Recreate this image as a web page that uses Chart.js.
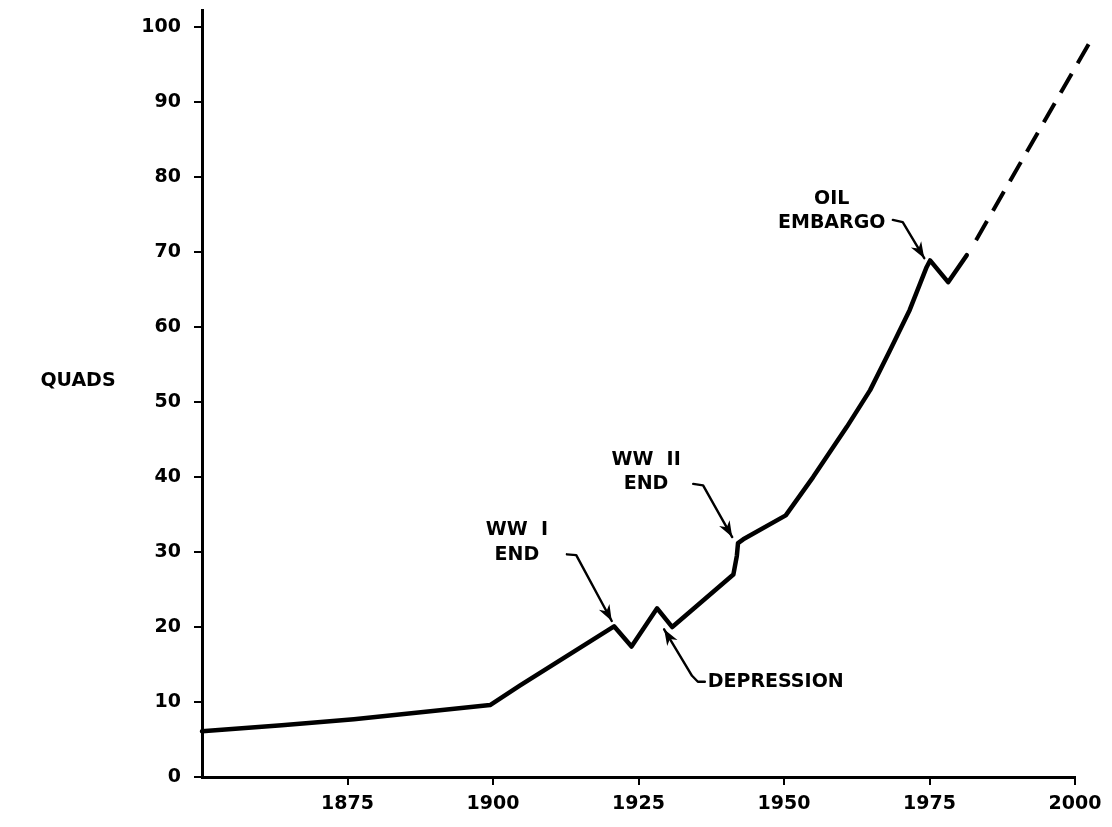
<!DOCTYPE html>
<html>
<head>
<meta charset="utf-8">
<script src="https://cdn.jsdelivr.net/npm/chart.js@4.4.1/dist/chart.umd.min.js"></script>
<style>
  html, body { margin: 0; padding: 0; background: #fff; }
  canvas { display: block; }
</style>
</head>
<body>
<canvas id="c" width="1112" height="827"></canvas>
<script>
// ---- data ----
const years  = [1850, 1863.7, 1876.1, 1899.5, 1904.6, 1920.8, 1923.8, 1928.2, 1930.8, 1941.3, 1941.9, 1942.1, 1943.0, 1950.3, 1955.0, 1960.8, 1964.8, 1968.2, 1971.6, 1974.5, 1975.1, 1978.2, 1981.4];
const quads  = [6.1, 6.9, 7.7, 9.6, 12.2, 20.1, 17.4, 22.5, 20.0, 27.0, 29.5, 31.2, 31.7, 34.9, 40.0, 46.7, 51.6, 56.9, 62.3, 68.0, 68.9, 66.0, 69.6];
const projYears = [1983.0, 2002.9];
const projQuads = [71.6, 98.5];
const xTickValues = [1875, 1900, 1925, 1950, 1975, 2000];
const yTickValues = [0, 10, 20, 30, 40, 50, 60, 70, 80, 90, 100];
const yAxisTitle = 'QUADS';

const FONT = 'DejaVu Sans';
const tickFont = { family: FONT, size: 19, weight: 'bold' };

const toXY = (xs, ys) => xs.map((x, i) => ({ x: x, y: ys[i] }));

// annotations (text + leader arrows) positioned in data coordinates
const notes = [
  { lines: ['WW  I', 'END'], at: [1904.1, 32.9], gap: 3.3,
    arrow: [[1912.7, 29.7], [1914.3, 29.6], [1920.4, 20.8]] },
  { lines: ['WW  II', 'END'], at: [1926.3, 42.3], gap: 3.2,
    arrow: [[1934.4, 39.1], [1936.1, 38.9], [1941.1, 32.0]] },
  { lines: ['OIL', 'EMBARGO'], at: [1958.2, 77.1], gap: 3.2,
    arrow: [[1968.7, 74.3], [1970.4, 74.0], [1974.1, 69.2]] },
  { lines: ['DEPRESSION'], at: [1936.9, 12.7], align: 'left',
    arrow: [[1936.4, 12.7], [1935.2, 12.7], [1934.2, 13.5], [1929.4, 19.7]] }
];

const annotationPlugin = {
  id: 'notes',
  afterDatasetsDraw(chart) {
    const { ctx, scales: { x, y }, chartArea } = chart;
    ctx.save();
    ctx.fillStyle = '#000';
    ctx.strokeStyle = '#000';
    ctx.font = 'bold 19px "' + FONT + '"';
    ctx.textBaseline = 'middle';

    // y axis title
    ctx.textAlign = 'center';
    ctx.fillText(yAxisTitle, chartArea.left - 124, y.getPixelForValue(52.8));

    notes.forEach(n => {
      ctx.textAlign = n.align || 'center';
      n.lines.forEach((t, i) => {
        ctx.fillText(t, x.getPixelForValue(n.at[0]), y.getPixelForValue(n.at[1] - i * (n.gap || 0)));
      });
      const pts = n.arrow.map(p => [x.getPixelForValue(p[0]), y.getPixelForValue(p[1])]);
      ctx.lineWidth = 2.4;
      ctx.lineJoin = 'round';
      ctx.lineCap = 'round';
      ctx.beginPath();
      pts.forEach((p, i) => i ? ctx.lineTo(p[0], p[1]) : ctx.moveTo(p[0], p[1]));
      ctx.stroke();
      // arrow head
      const a = pts[pts.length - 2], b = pts[pts.length - 1];
      const ang = Math.atan2(b[1] - a[1], b[0] - a[0]);
      const L = 16, W = 6;
      ctx.beginPath();
      ctx.moveTo(b[0], b[1]);
      ctx.lineTo(b[0] - L * Math.cos(ang) + W * Math.sin(ang), b[1] - L * Math.sin(ang) - W * Math.cos(ang));
      ctx.lineTo(b[0] - L * 0.7 * Math.cos(ang), b[1] - L * 0.7 * Math.sin(ang));
      ctx.lineTo(b[0] - L * Math.cos(ang) - W * Math.sin(ang), b[1] - L * Math.sin(ang) + W * Math.cos(ang));
      ctx.closePath();
      ctx.fill();
    });
    ctx.restore();
  }
};

new Chart(document.getElementById('c'), {
  type: 'line',
  data: {
    datasets: [
      { data: toXY(years, quads), borderColor: '#000', borderWidth: 4.5, pointRadius: 0,
        tension: 0, borderJoinStyle: 'round', borderCapStyle: 'round', clip: false },
      { data: toXY(projYears, projQuads), borderColor: '#000', borderWidth: 4, pointRadius: 0,
        borderDash: [22, 12], tension: 0, borderCapStyle: 'butt', clip: false }
    ]
  },
  options: {
    responsive: false,
    animation: false,
    devicePixelRatio: 1,
    layout: { padding: { left: 0, right: 37, top: 10, bottom: 0 } },
    plugins: { legend: { display: false }, tooltip: { enabled: false } },
    scales: {
      x: {
        type: 'linear', min: 1850, max: 2000,
        afterBuildTicks: s => { s.ticks = xTickValues.map(v => ({ value: v })); },
        afterFit: s => { s.height = 50; s.paddingLeft = 0; s.paddingRight = 0; },
        ticks: { font: tickFont, color: '#000', padding: 8, maxRotation: 0, autoSkip: false,
                 callback: v => String(v) },
        grid: { display: true, drawOnChartArea: false, drawTicks: true, tickLength: 8,
                color: '#000', lineWidth: 2 },
        border: { display: true, color: '#000', width: 3 }
      },
      y: {
        type: 'linear', min: 0, max: 102.3,
        afterBuildTicks: s => { s.ticks = yTickValues.map(v => ({ value: v })); },
        afterFit: s => { s.width = 202; s.paddingTop = 0; s.paddingBottom = 0; },
        ticks: { font: tickFont, color: '#000', padding: 13, autoSkip: false,
                 callback: v => String(v) },
        grid: { display: true, drawOnChartArea: false, drawTicks: true, tickLength: 8,
                color: '#000', lineWidth: 2 },
        border: { display: true, color: '#000', width: 3 }
      }
    }
  },
  plugins: [annotationPlugin]
});
</script>
</body>
</html>
